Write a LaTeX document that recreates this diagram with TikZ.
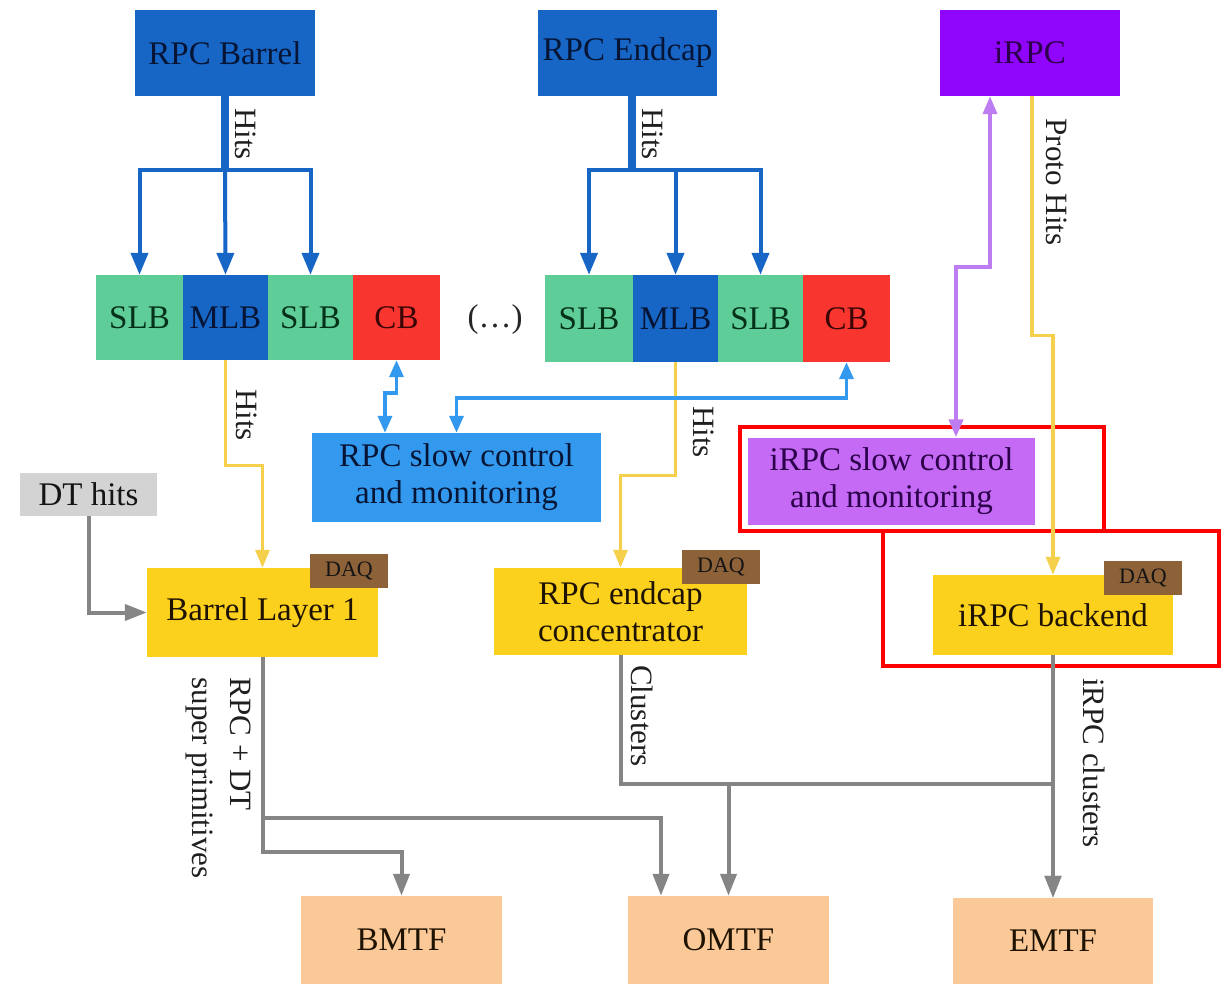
\documentclass[tikz,border=0pt]{standalone}
\usepackage{fontspec}
\setmainfont{Liberation Serif}
\usetikzlibrary{arrows.meta}
\definecolor{cblue}{HTML}{1766C6}
\definecolor{cgreen}{HTML}{5FCD97}
\definecolor{cred}{HTML}{F8362F}
\definecolor{cpurple}{HTML}{9005FC}
\definecolor{clblue}{HTML}{3399EE}
\definecolor{clpurple}{HTML}{C46AF5}
\definecolor{cyellow}{HTML}{FCD11E}
\definecolor{cbrown}{HTML}{8E6239}
\definecolor{cgray}{HTML}{D3D3D3}
\definecolor{cpeach}{HTML}{FBC998}
\definecolor{lyellow}{HTML}{F5D04C}
\definecolor{lpurple}{HTML}{BE7CF2}
\definecolor{lgray}{HTML}{858585}
\definecolor{navy}{HTML}{061535}
\definecolor{dgreen}{HTML}{05301A}
\definecolor{dred}{HTML}{3A0505}
\definecolor{dpurple}{HTML}{2C004A}
\definecolor{dbrown}{HTML}{1E1303}
\definecolor{hired}{HTML}{FF0000}
\begin{document}
\begin{tikzpicture}[x=1pt,y=-1pt,
  box/.style={inner sep=0pt, align=center, font=\fontsize{33}{37}\selectfont},
  lbl/.style={inner sep=0pt, rotate=-90, align=left, text=black!88, font=\fontsize{31}{38}\selectfont},
  daq/.style={box, fill=cbrown, text=black!92, minimum width=78pt, minimum height=34pt, font=\fontsize{22}{24}\selectfont},
  bluearr/.style={draw=cblue, line width=4pt, -{Triangle[width=17pt,length=22pt]}},
  lbarr/.style={draw=clblue, line width=3.5pt, {Triangle[width=14pt,length=17pt]}-{Triangle[width=14pt,length=17pt]}},
  yarr/.style={draw=lyellow, line width=3.2pt, -{Triangle[width=14pt,length=18pt]}},
  parr/.style={draw=lpurple, line width=3.8pt, {Triangle[width=14pt,length=18pt]}-{Triangle[width=14pt,length=18pt]}},
  garr/.style={draw=lgray, line width=4pt, -{Triangle[width=16pt,length=22pt]}},
  hilite/.style={draw=hired, line width=4pt}
]
\useasboundingbox (0,0) rectangle (1225,984);

% top sources
\node[box, fill=cblue, text=navy, minimum width=180pt, minimum height=86pt] (rb) at (225,53) {RPC Barrel};
\node[box, fill=cblue, text=navy, minimum width=179pt, minimum height=86pt] (re) at (627.5,53) {RPC Endcap};
\node[box, fill=cpurple, text=dpurple, minimum width=180pt, minimum height=86pt] (ir) at (1030,53) {iRPC};

% barrel link boards
\node[box, fill=cgreen, text=dgreen, minimum width=87pt, minimum height=85pt] (b1) at (139.5,317.5) {SLB};
\node[box, fill=cblue, text=navy, minimum width=85pt, minimum height=85pt] (b2) at (225.5,317.5) {MLB};
\node[box, fill=cgreen, text=dgreen, minimum width=85pt, minimum height=85pt] (b3) at (310.5,317.5) {SLB};
\node[box, fill=cred, text=dred, minimum width=87pt, minimum height=85pt] (b4) at (396.5,317.5) {CB};
\node[box, text=black!85] (dots) at (495,320) {(…)};
% endcap link boards
\node[box, fill=cgreen, text=dgreen, minimum width=88pt, minimum height=87pt] (e1) at (589,318.5) {SLB};
\node[box, fill=cblue, text=navy, minimum width=85pt, minimum height=87pt] (e2) at (675.5,318.5) {MLB};
\node[box, fill=cgreen, text=dgreen, minimum width=85pt, minimum height=87pt] (e3) at (760.5,318.5) {SLB};
\node[box, fill=cred, text=dred, minimum width=87pt, minimum height=87pt] (e4) at (846.5,318.5) {CB};

% middle
\node[box, fill=clblue, text=navy, minimum width=289pt, minimum height=89pt] (sc) at (456.5,477.5) {RPC slow control\\and monitoring};
\node[box, fill=clpurple, text=dpurple, minimum width=287pt, minimum height=87pt] (isc) at (891.5,481) {iRPC slow control\\and monitoring};
\node[box, fill=cgray, text=black!92, minimum width=137pt, minimum height=43pt] (dt) at (88.5,494.5) {DT hits};

\node[box, fill=cyellow, text=dbrown, minimum width=231pt, minimum height=89pt] (bl1) at (262.5,612.5) {Barrel Layer 1};
\node[box, fill=cyellow, text=dbrown, minimum width=253pt, minimum height=87pt] (cc) at (620.5,611.5) {RPC endcap\\concentrator};
\node[box, fill=cyellow, text=dbrown, minimum width=240pt, minimum height=80pt] (ib) at (1053,615) {iRPC backend};
\node[daq] (daq1) at (349,571) {DAQ};
\node[daq] (daq2) at (721,566.5) {DAQ};
\node[daq] (daq3) at (1143,578) {DAQ};

% bottom
\node[box, fill=cpeach, text=dbrown, minimum width=201pt, minimum height=88pt] (bm) at (401.5,940) {BMTF};
\node[box, fill=cpeach, text=dbrown, minimum width=201pt, minimum height=88pt] (om) at (728.5,940) {OMTF};
\node[box, fill=cpeach, text=dbrown, minimum width=200pt, minimum height=86pt] (em) at (1053,941) {EMTF};

% highlight frames
\draw[hilite] (740,427) rectangle (1104,531);
\draw[hilite] (883,531) rectangle (1219,666);

% blue hits from barrel
\draw[draw=cblue, line width=8pt] (rb.south) -- ++(0,74) coordinate (bj);
\draw[bluearr] (bj) -| (b1.north);
\draw[bluearr] (bj) -- (b2.north);
\draw[bluearr] (bj) -| (b3.north);
% blue hits from endcap
\draw[draw=cblue, line width=8pt] ([xshift=4.5pt]re.south) -- ++(0,74) coordinate (ej);
\draw[bluearr] (ej) -| (e1.north);
\draw[bluearr] (ej) -| (e2.north);
\draw[bluearr] (ej) -| (e3.north);
\node[lbl] (h1) at (246,134) {Hits};
\node[lbl] (h2) at (653,134) {Hits};

% iRPC links
\draw[parr] ([xshift=-40pt]ir.south) -- ++(0,171) -| ([xshift=64.5pt]isc.north);
\draw[yarr] ([xshift=2pt]ir.south) -- ++(0,239) -| (ib.north);
\node[lbl] (ph) at (1057,182) {Proto Hits};

% hits to concentrators
\draw[yarr] (b2.south) -- ++(0,105) -| (bl1.north);
\draw[yarr] (e2.south) -- ++(0,113) -| (cc.north);
\node[lbl] (h3) at (247,415) {Hits};
\node[lbl] (h4) at (704,432) {Hits};

% slow control
\draw[lbarr] (b4.south) -- ++(0,33) -| ([xshift=-71.5pt]sc.north);
\draw[lbarr] (e4.south) -- ++(0,36) -| (sc.north);

% DT hits
\draw[garr] (dt.south) |- (bl1.west);

% trigger outputs
\draw[garr] (bl1.south) -- ++(0,161) coordinate (lj) -- ++(0,34) -| (bm.north);
\draw[garr] (lj) -| ([xshift=-67.5pt]om.north);
\draw[garr] (cc.south) -- ++(0,129) coordinate (cj) -| (em.north);
\draw[garr] (cj -| om.north) -- (om.north);
\draw[garr] (ib.south) -- (em.north);
\node[lbl] (l1) at (218,778) {RPC + DT\\super primitives};
\node[lbl] (l2) at (642,716) {Clusters};
\node[lbl] (l3) at (1094,763) {iRPC clusters};
\end{tikzpicture}
\end{document}
